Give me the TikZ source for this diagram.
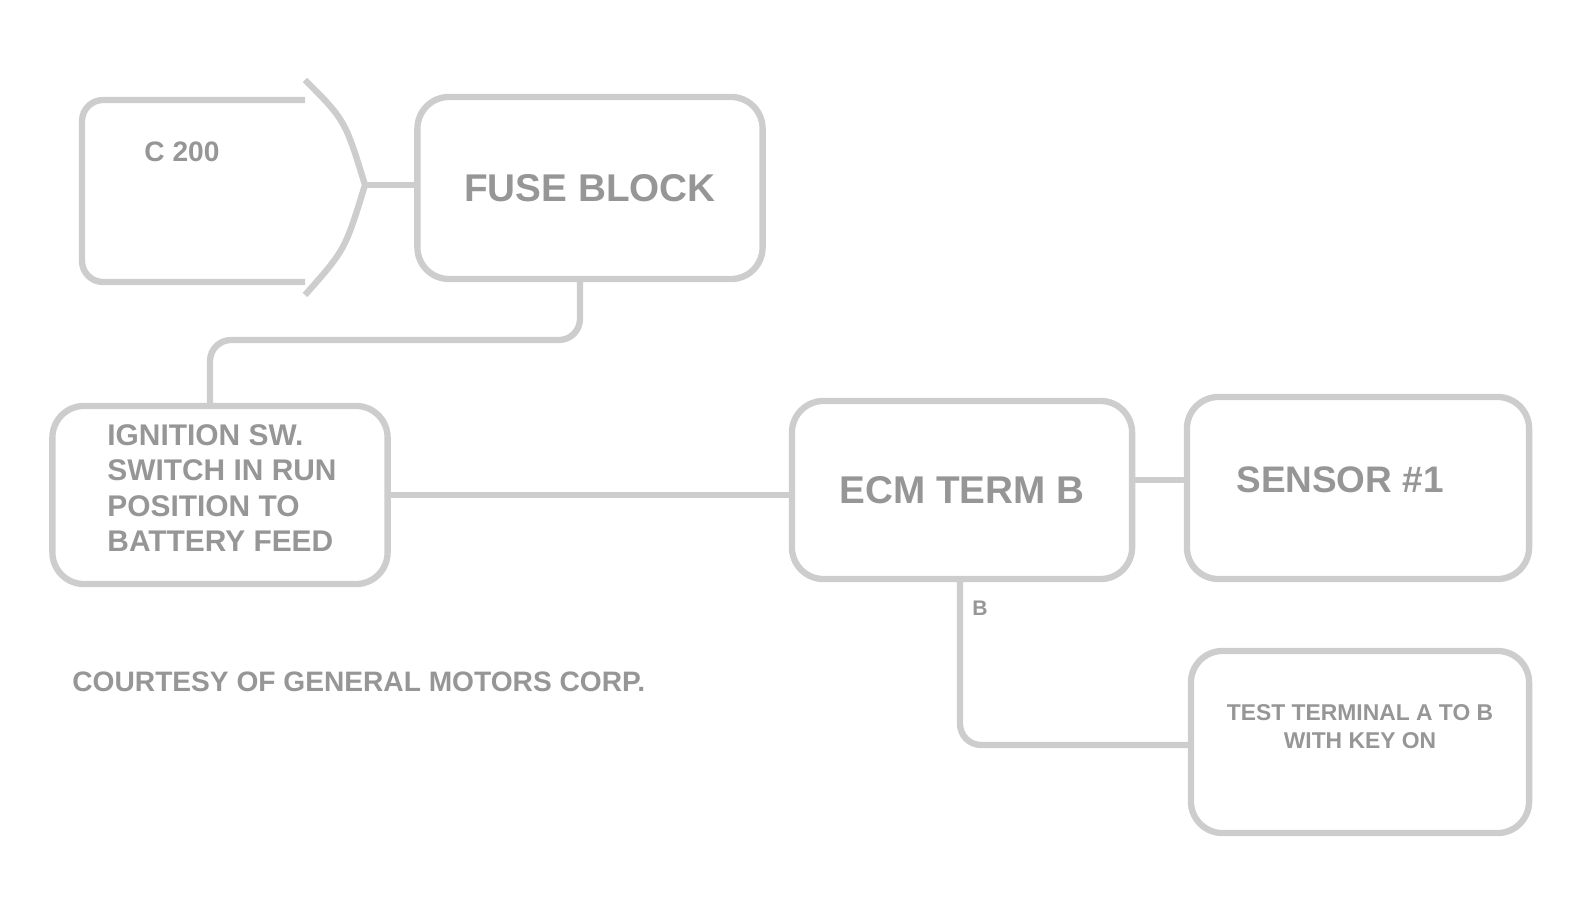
\documentclass[tikz,border=0pt]{standalone}
\usepackage{fontspec}
\setsansfont{Liberation Sans}
\definecolor{WireClr}{RGB}{205,205,205}
\definecolor{TextClr}{RGB}{150,150,150}

\begin{document}
\begin{tikzpicture}[x=0.01cm,y=-0.01cm,
  box/.style={draw=WireClr,line width=1.8pt,rounded corners=9pt,inner sep=0pt},
  wire/.style={draw=WireClr,line width=1.8pt,rounded corners=6pt},
  lbl/.style={text=TextClr,font=\sffamily\bfseries}]
\useasboundingbox (0,0) rectangle (1574,913);

% plug
\draw[wire] (305,100) -- (82,100) -- (82,282) -- (305,282);
\draw[wire,rounded corners=0pt] (305,80) .. controls (345,120) .. (365,185)
  .. controls (345,250) .. (305,295);
\coordinate (tip) at (365,185);
\node[lbl,font=\sffamily\bfseries\fontsize{8}{9}\selectfont] (plugtxt) at (182,152) {C 200};

% boxes
\node[box,lbl,minimum width=3.45cm,minimum height=1.82cm,
  font=\sffamily\bfseries\fontsize{11}{13}\selectfont] (fuse) at (590,188) {FUSE BLOCK};
\node[box,minimum width=3.35cm,minimum height=1.78cm] (ign) at (220,495) {};
\node[lbl,align=left,font=\sffamily\bfseries\fontsize{8.5}{10}\selectfont] (igntxt) at (222,488)
  {IGNITION SW.\\SWITCH IN RUN\\POSITION TO\\BATTERY FEED};
\node[box,lbl,minimum width=3.4cm,minimum height=1.78cm,
  font=\sffamily\bfseries\fontsize{11}{13}\selectfont] (ecm) at (962,490) {ECM TERM B};
\node[box,minimum width=3.42cm,minimum height=1.82cm] (sens) at (1358,488) {};
\node[lbl,font=\sffamily\bfseries\fontsize{10.5}{13}\selectfont] (senstxt)
  at (1340,480) {SENSOR \#1};
\node[box,minimum width=3.38cm,minimum height=1.82cm] (diag) at (1360,742) {};
\node[lbl,align=center,font=\sffamily\bfseries\fontsize{6.5}{8}\selectfont] (diagtxt)
  at (1360,727) {TEST TERMINAL A TO B\\WITH KEY ON};

% wires
\draw[wire] (tip) -- (fuse.west |- tip);
\draw[wire] (fuse.south -| 580,0) |- (210,340) -- (ign.north -| 210,0);
\draw[wire] (ign.east) -- (ecm.west |- ign.east);
\draw[wire] (ecm.east |- 0,480) -- (sens.west |- 0,480);
\draw[wire] (ecm.south -| 960,0) |- (diag.west |- 0,745);
\node[lbl,font=\sffamily\bfseries\fontsize{6}{7}\selectfont] (pin) at (980,608) {B};

\node[lbl,anchor=west,font=\sffamily\bfseries\fontsize{8}{10}\selectfont] (cap) at (60,682)
  {COURTESY OF GENERAL MOTORS CORP.};
\end{tikzpicture}
\end{document}
